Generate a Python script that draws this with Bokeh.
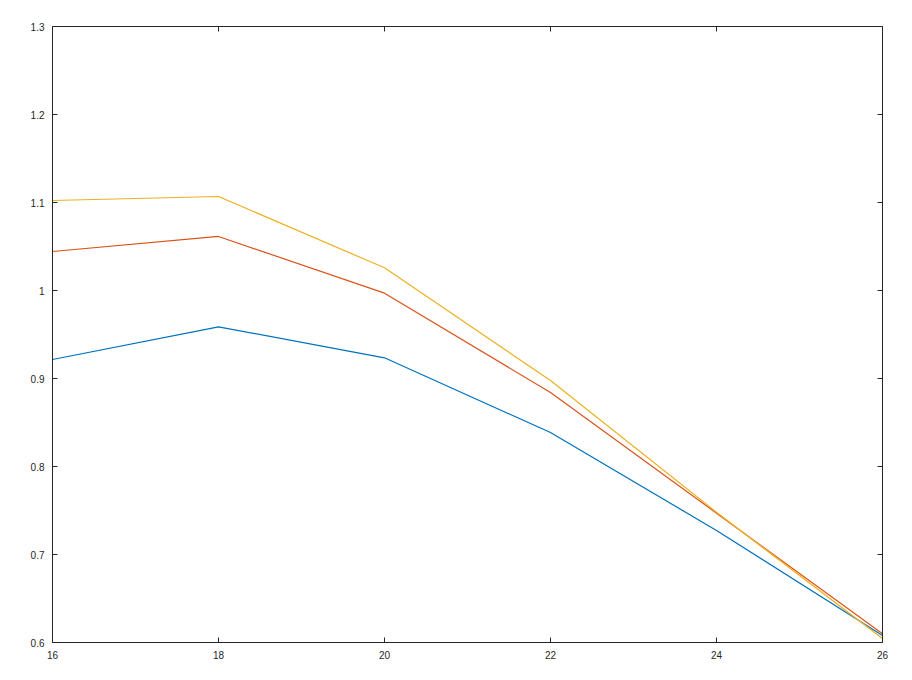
from bokeh.plotting import figure
from bokeh.models import Range1d, LinearAxis, FixedTicker
from bokeh.embed import file_html
from bokeh.resources import INLINE

x_values = [16, 18, 20, 22, 24, 26]
series_blue = [0.9216, 0.9587, 0.9235, 0.8386, 0.7273, 0.608]
series_red = [1.0443, 1.0614, 0.997, 0.884, 0.747, 0.610]
series_yellow = [1.1023, 1.1068, 1.0258, 0.8977, 0.748, 0.6045]
x_ticks = [16, 18, 20, 22, 24, 26]
y_ticks = [0.6, 0.7, 0.8, 0.9, 1.0, 1.1, 1.2, 1.3]
y_tick_labels = ["0.6", "0.7", "0.8", "0.9", "1", "1.1", "1.2", "1.3"]
colors = ["#0072BD", "#D95319", "#EDB120"]

p = figure(width=904, height=672, output_backend="svg", toolbar_location=None,
           x_range=Range1d(16, 26), y_range=Range1d(0.6, 1.3),
           x_axis_location=None, y_axis_location=None,
           min_border_left=52, min_border_top=26, min_border_right=22, min_border_bottom=30)
p.outline_line_color = None
p.xgrid.visible = False
p.ygrid.visible = False

axis_color = "#262626"
label_font = "Liberation Sans"

def style(ax):
    ax.axis_line_color = axis_color
    ax.axis_line_width = 1
    ax.major_tick_line_color = axis_color
    ax.major_tick_in = 5
    ax.major_tick_out = 0
    ax.minor_tick_line_color = None
    ax.major_label_text_font = label_font
    ax.major_label_text_font_size = "10px"
    ax.major_label_text_color = axis_color
    ax.major_label_standoff = 8

bottom = LinearAxis(ticker=FixedTicker(ticks=x_ticks))
style(bottom)
bottom.major_label_overrides = {t: str(t) for t in x_ticks}
top = LinearAxis(ticker=FixedTicker(ticks=x_ticks))
style(top)
top.major_label_overrides = {t: "" for t in x_ticks}
left = LinearAxis(ticker=FixedTicker(ticks=y_ticks))
style(left)
left.major_label_overrides = {t: l for t, l in zip(y_ticks, y_tick_labels)}
right = LinearAxis(ticker=FixedTicker(ticks=y_ticks))
style(right)
right.major_label_overrides = {t: "" for t in y_ticks}

p.add_layout(bottom, "below")
p.add_layout(top, "above")
p.add_layout(left, "left")
p.add_layout(right, "right")

for ys, c in zip([series_blue, series_red, series_yellow], colors):
    p.line(x_values, ys, line_color=c, line_width=1.2)

open("out.html", "w").write(file_html(p, INLINE))
